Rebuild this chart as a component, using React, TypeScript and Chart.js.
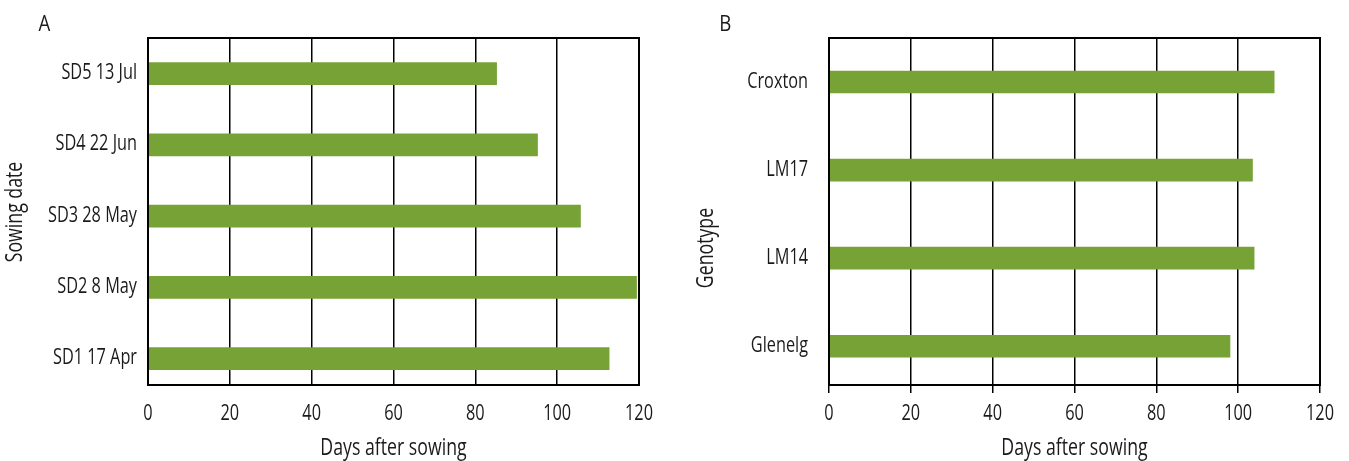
import React, { useEffect, useRef } from "react";
import { Chart, registerables } from "chart.js";

Chart.register(...registerables);

// Panel A: days to maturity by sowing date
const sowingDates = ["SD1 17 Apr", "SD2 8 May", "SD3 28 May", "SD4 22 Jun", "SD5 13 Jul"];
const sowingDays = [112.7, 119.4, 105.7, 95.2, 85.2];

// Panel B: days to maturity by genotype
const genotypes = ["Glenelg", "LM14", "LM17", "Croxton"];
const genotypeDays = [98.0, 103.9, 103.5, 108.8];

const dayTicks = [0, 20, 40, 60, 80, 100, 120];

const FONT = '"Open Sans", "Noto Sans", sans-serif';
const TEXT = "#1a1a1a";
const GREEN = "#77a236";
const H = 461;
const PLOT_TOP = 38;
const PLOT_BOTTOM = 385;
const SQUEEZE = 0.74; // horizontal compression giving a condensed face

function condensed(
  ctx: CanvasRenderingContext2D,
  text: string,
  x: number,
  y: number,
  align: CanvasTextAlign,
  size: number,
  rotate = 0,
  squeeze = SQUEEZE
) {
  ctx.save();
  ctx.translate(x, y);
  if (rotate) ctx.rotate(rotate);
  ctx.scale(squeeze, 1);
  ctx.font = `${size}px ${FONT}`;
  ctx.fillStyle = TEXT;
  ctx.textAlign = align;
  ctx.textBaseline = "alphabetic";
  ctx.fillText(text, 0, 0);
  ctx.restore();
}

// Draws the closed frame plus every text item (tick labels, axis titles, panel letter).
const framePlugin = {
  id: "frame",
  afterDraw(chart: any, _args: any, opts: any) {
    const { ctx, chartArea: a, scales } = chart;
    ctx.save();
    ctx.strokeStyle = "#000";
    ctx.lineWidth = 2;
    ctx.strokeRect(a.left, a.top, a.right - a.left, a.bottom - a.top);
    ctx.restore();

    const xs = scales.x;
    const ys = scales.y;
    for (const v of dayTicks) {
      condensed(ctx, String(v), xs.getPixelForValue(v), opts.xLabelBase, "center", 22);
    }
    opts.categories.forEach((c: string, i: number) => {
      condensed(ctx, c, a.left - opts.labelGap, ys.getPixelForValue(i) + 5.5, "right", 22);
    });
    condensed(ctx, "Days after sowing", (a.left + a.right) / 2, 455, "center", 23, 0, 0.77);
    condensed(ctx, opts.yTitle, opts.titleX, opts.titleY, "center", 23, -Math.PI / 2, 0.77);
    condensed(ctx, opts.letter, opts.letterX, 30.5, "center", 22, 0, 0.85);
  },
};

type PanelProps = {
  letter: string;
  categories: string[];
  values: number[];
  yTitle: string;
  left: number;
  width: number;
  plotLeft: number;
  plotRight: number;
  yMin: number;
  yMax: number;
  labelGap: number;
  tickMarks: boolean;
  titleX: number;
  titleY: number;
  letterX: number;
};

function Panel(p: PanelProps) {
  const ref = useRef<HTMLCanvasElement | null>(null);

  useEffect(() => {
    if (!ref.current) return;
    const chart = new Chart(ref.current, {
      type: "bar",
      data: {
        datasets: [
          {
            data: p.values.map((v, i) => ({ x: v, y: i })),
            backgroundColor: GREEN,
            borderWidth: 0,
            barThickness: 22,
          } as any,
        ],
      },
      plugins: [framePlugin],
      options: {
        indexAxis: "y",
        responsive: false,
        animation: false,
        layout: { padding: { top: PLOT_TOP, right: p.width - p.plotRight, left: 0, bottom: 0 } },
        plugins: {
          legend: { display: false },
          tooltip: { enabled: false },
          frame: {
            letter: p.letter,
            letterX: p.letterX,
            yTitle: p.yTitle,
            titleX: p.titleX,
            titleY: p.titleY,
            categories: p.categories,
            labelGap: p.labelGap,
            xLabelBase: 420,
          },
        } as any,
        scales: {
          x: {
            type: "linear",
            min: 0,
            max: 120,
            afterBuildTicks: (s: any) => {
              s.ticks = dayTicks.map((v) => ({ value: v }));
            },
            grid: {
              color: "#000",
              lineWidth: 1.5,
              drawTicks: p.tickMarks,
              tickLength: 8,
              tickColor: "#000",
              tickWidth: 1.5,
            },
            border: { display: false },
            ticks: { display: false },
            afterFit: (s: any) => {
              s.height = H - PLOT_BOTTOM;
            },
          },
          y: {
            type: "linear",
            min: p.yMin,
            max: p.yMax,
            offset: false,
            afterBuildTicks: (s: any) => {
              s.ticks = p.categories.map((_, i) => ({ value: i }));
            },
            ticks: { display: false },
            grid: { display: false, offset: false },
            border: { display: false },
            afterFit: (s: any) => {
              s.width = p.plotLeft;
            },
          },
        } as any,
      },
    });
    return () => chart.destroy();
  }, []);

  return (
    <canvas
      ref={ref}
      width={p.width}
      height={H}
      style={{ position: "absolute", left: p.left, top: 0, width: p.width, height: H }}
    />
  );
}

export default function App() {
  return (
    <div
      style={{
        position: "fixed",
        left: 0,
        top: 0,
        width: 1349,
        height: H,
        background: "#fff",
        overflow: "hidden",
      }}
    >
      <Panel
        letter="A"
        categories={sowingDates}
        values={sowingDays}
        yTitle="Sowing date"
        left={0}
        width={680}
        plotLeft={148}
        plotRight={639}
        yMin={-0.37}
        yMax={4.5}
        labelGap={11}
        tickMarks={false}
        titleX={22}
        titleY={212}
        letterX={44.5}
      />
      <Panel
        letter="B"
        categories={genotypes}
        values={genotypeDays}
        yTitle="Genotype"
        left={680}
        width={669}
        plotLeft={149}
        plotRight={640}
        yMin={-0.44}
        yMax={3.5}
        labelGap={21}
        tickMarks={true}
        titleX={33}
        titleY={248}
        letterX={45.3}
      />
    </div>
  );
}
